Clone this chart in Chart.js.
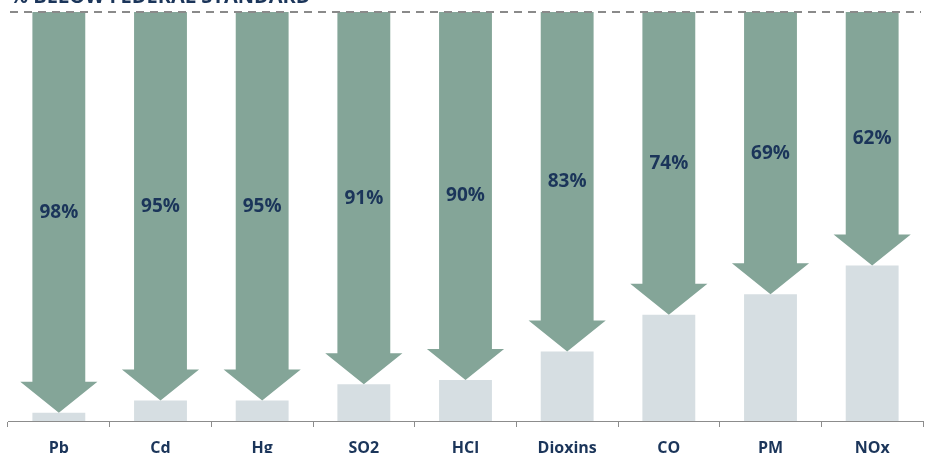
<!DOCTYPE html>
<html>
<head>
<meta charset="utf-8">
<script src="https://cdn.jsdelivr.net/npm/chart.js@4.4.1/dist/chart.umd.min.js"></script>
<style>
  html, body { margin: 0; padding: 0; background: #fff; }
  #wrap { width: 931px; height: 453px; }
</style>
</head>
<body>
<div id="wrap"><canvas id="chart"></canvas></div>
<script>
// Data
const categories = ['Pb', 'Cd', 'Hg', 'SO2', 'HCl', 'Dioxins', 'CO', 'PM', 'NOx'];
const belowStandard = [98, 95, 95, 91, 90, 83, 74, 69, 62];   // % below federal standard
const remaining = belowStandard.map(v => 100 - v);             // emission level as % of standard
const titleText = '% BELOW FEDERAL STANDARD';

const NAVY = '#1b355a';
const ARROW = '#84a598';
const BAR = '#d6dee2';
const FONT = "'Open Sans', 'Noto Sans', sans-serif";

// Arrows, labels, dashed standard line
const arrowPlugin = {
  id: 'arrows',
  afterDatasetsDraw(chart) {
    const ctx = chart.ctx;
    const meta = chart.getDatasetMeta(1);
    const yScale = chart.scales.y;
    const headH = 31;

    ctx.save();
    meta.data.forEach((el, i) => {
      const { x, y, base, width } = el.getProps(['x', 'y', 'base', 'width'], true);
      const half = width / 2;
      const headHalf = width * 0.73;
      const headTop = base - headH;
      ctx.fillStyle = ARROW;
      ctx.beginPath();
      ctx.moveTo(x - half, y);
      ctx.lineTo(x + half, y);
      ctx.lineTo(x + half, headTop);
      ctx.lineTo(x + headHalf, headTop);
      ctx.lineTo(x, base);
      ctx.lineTo(x - headHalf, headTop);
      ctx.lineTo(x - half, headTop);
      ctx.closePath();
      ctx.fill();

      ctx.fillStyle = NAVY;
      ctx.font = 'bold 19px ' + FONT;
      ctx.textAlign = 'center';
      ctx.textBaseline = 'middle';
      ctx.fillText(belowStandard[i] + '%', x, (y + base) / 2);
    });

    // federal standard line
    const yTop = yScale.getPixelForValue(100);
    ctx.strokeStyle = '#8a8a8a';
    ctx.lineWidth = 2;
    ctx.setLineDash([8, 6]);
    ctx.beginPath();
    ctx.moveTo(10, yTop);
    ctx.lineTo(921, yTop);
    ctx.stroke();
    ctx.setLineDash([]);

    // title, clipped at top edge
    ctx.fillStyle = NAVY;
    ctx.font = 'bold 20px ' + FONT;
    ctx.textAlign = 'left';
    ctx.textBaseline = 'alphabetic';
    ctx.fillText(titleText, 10, 3);
    ctx.restore();
  }
};

new Chart(document.getElementById('chart'), {
  type: 'bar',
  data: {
    labels: categories,
    datasets: [
      {
        label: 'Emissions',
        data: remaining,
        backgroundColor: BAR,
        borderWidth: 0,
        barPercentage: 0.52,
        categoryPercentage: 1
      },
      {
        label: 'Below standard',
        data: belowStandard,
        backgroundColor: 'rgba(0,0,0,0)',
        borderWidth: 0,
        barPercentage: 0.52,
        categoryPercentage: 1
      }
    ]
  },
  options: {
    responsive: true,
    maintainAspectRatio: false,
    animation: false,
    layout: { padding: { left: 8, right: 8, top: 12, bottom: 0 } },
    plugins: {
      legend: { display: false },
      tooltip: { enabled: false }
    },
    scales: {
      x: {
        stacked: true,
        afterFit(axis) { axis.height = 32; },
        border: { display: true, color: '#8c8c8c', width: 1 },
        grid: {
          offset: true,
          drawOnChartArea: false,
          drawTicks: true,
          tickLength: 6,
          color: '#8c8c8c'
        },
        ticks: {
          color: NAVY,
          padding: 12,
          font: { family: FONT, size: 16, weight: 'bold' }
        }
      },
      y: {
        stacked: true,
        display: false,
        min: 0,
        max: 100
      }
    }
  },
  plugins: [arrowPlugin]
});
</script>
</body>
</html>
